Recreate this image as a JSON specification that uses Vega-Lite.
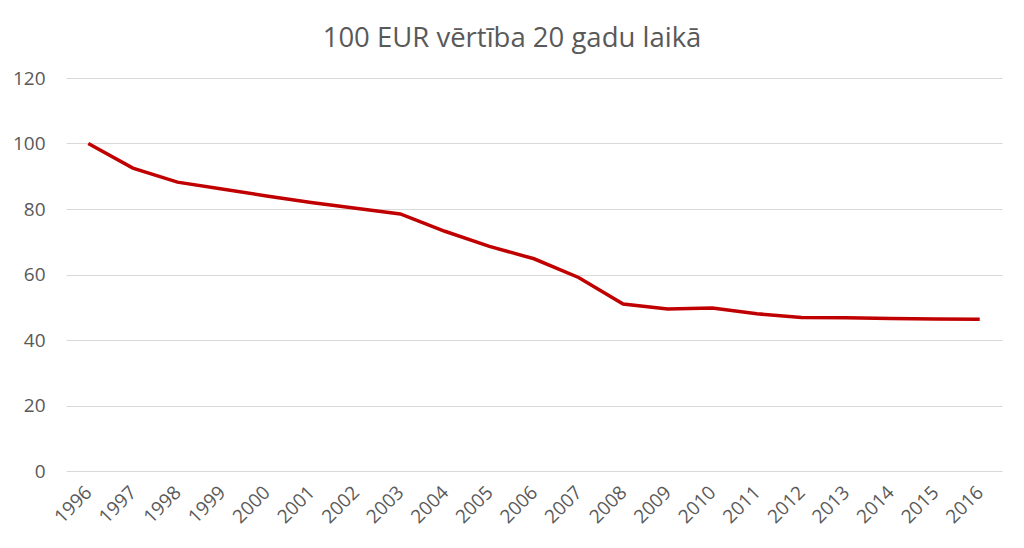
{
  "$schema": "https://vega.github.io/schema/vega-lite/v6.json",
  "width": 936,
  "height": 393,
  "autosize": {"type": "none"},
  "padding": {"left": 66, "top": 78, "right": 22, "bottom": 77},
  "background": "white",
  "title": {
    "text": "100 EUR vērtība 20 gadu laikā",
    "font": "Open Sans",
    "fontSize": 27.5,
    "fontWeight": "normal",
    "color": "#595959",
    "anchor": "middle",
    "dx": -22,
    "offset": 17
  },
  "data": {
    "values": [
      {"year": "1996", "value": 100},
      {"year": "1997", "value": 92.5},
      {"year": "1998", "value": 88.2},
      {"year": "1999", "value": 86.1},
      {"year": "2000", "value": 84.0},
      {"year": "2001", "value": 82.0},
      {"year": "2002", "value": 80.2},
      {"year": "2003", "value": 78.5},
      {"year": "2004", "value": 73.2},
      {"year": "2005", "value": 68.6},
      {"year": "2006", "value": 64.8},
      {"year": "2007", "value": 59.1},
      {"year": "2008", "value": 51.0},
      {"year": "2009", "value": 49.5},
      {"year": "2010", "value": 49.8},
      {"year": "2011", "value": 48.0},
      {"year": "2012", "value": 46.9},
      {"year": "2013", "value": 46.8},
      {"year": "2014", "value": 46.6},
      {"year": "2015", "value": 46.4},
      {"year": "2016", "value": 46.3}
    ]
  },
  "config": {"view": {"stroke": null}},
  "mark": {"type": "line", "color": "#C00000", "strokeWidth": 3.5},
  "encoding": {
    "x": {
      "field": "year",
      "type": "ordinal",
      "scale": {"type": "point", "padding": 0.5},
      "axis": {
        "title": null,
        "labelAngle": -45,
        "labelAlign": "right",
        "labelBaseline": "middle",
        "labelFont": "Open Sans",
        "labelFontSize": 19,
        "labelColor": "#595959",
        "labelPadding": 18,
        "ticks": false,
        "domain": false,
        "grid": false
      }
    },
    "y": {
      "field": "value",
      "type": "quantitative",
      "scale": {"domain": [0, 120]},
      "axis": {
        "title": null,
        "values": [0, 20, 40, 60, 80, 100, 120],
        "labelFont": "Open Sans",
        "labelFontSize": 19,
        "labelColor": "#595959",
        "labelPadding": 21,
        "ticks": false,
        "domain": false,
        "gridColor": "#d9d9d9",
        "gridWidth": 1
      }
    }
  }
}
